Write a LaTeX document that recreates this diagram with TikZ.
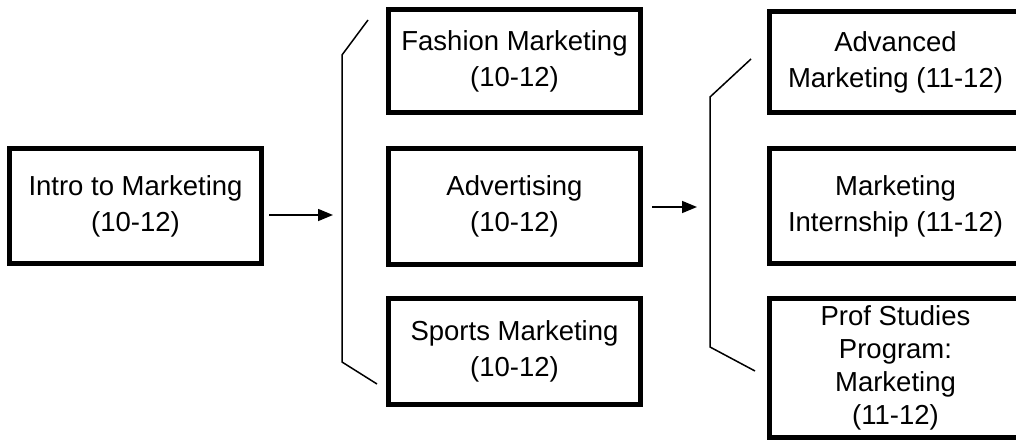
\documentclass[tikz,border=0pt]{standalone}
\usepackage{fontspec}
\setmainfont{Liberation Sans}
\usetikzlibrary{arrows.meta, positioning}

\begin{document}
\begin{tikzpicture}[x=1pt, y=-1pt,
    course/.style={draw=black, line width=5.5pt, inner sep=0pt, minimum width=252pt, align=center, font=\fontsize{27.5}{36}\selectfont},
    flow/.style={black, line width=1.5pt, -{Triangle[length=15pt, width=12pt]}},
    bracket/.style={black, line width=1.5pt}]
\useasboundingbox (0,0) rectangle (1016,441);

% first year
\node[course, minimum height=115pt] (intro) at (135.5, 206) {Intro to Marketing\\(10-12)};

% second column
\node[course, minimum height=103pt] (fashion) at (514.5, 61) {Fashion Marketing\\(10-12)};
\node[course, minimum height=116pt] (advert) at (514.5, 206.5) {Advertising\\(10-12)};
\node[course, minimum height=106pt] (sports) at (514.5, 351.5) {Sports Marketing\\(10-12)};

% third column
\node[course, minimum height=101pt] (advanced) at (895.5, 62) {Advanced\\Marketing (11-12)};
\node[course, minimum height=115pt] (intern) at (895.5, 206) {Marketing\\Internship (11-12)};
\node[course, minimum height=139pt, font=\fontsize{27.5}{33}\selectfont] (prof) at (895.5, 368) {Prof Studies\\Program:\\Marketing\\(11-12)};

% brackets
\coordinate (brA) at (342, 215);
\coordinate (brB) at (710, 207);
\draw[bracket] (368,20) -- (342,55) -- (342,362) -- (377,384);
\draw[bracket] (751,59) -- (710,97) -- (710,347) -- (755,371);

% arrows
\draw[flow, shorten <=5pt, shorten >=9pt] (intro.east |- brA) -- (brA);
\draw[flow, shorten <=9pt, shorten >=13pt] (advert.east |- brB) -- (brB);

\end{tikzpicture}
\end{document}
